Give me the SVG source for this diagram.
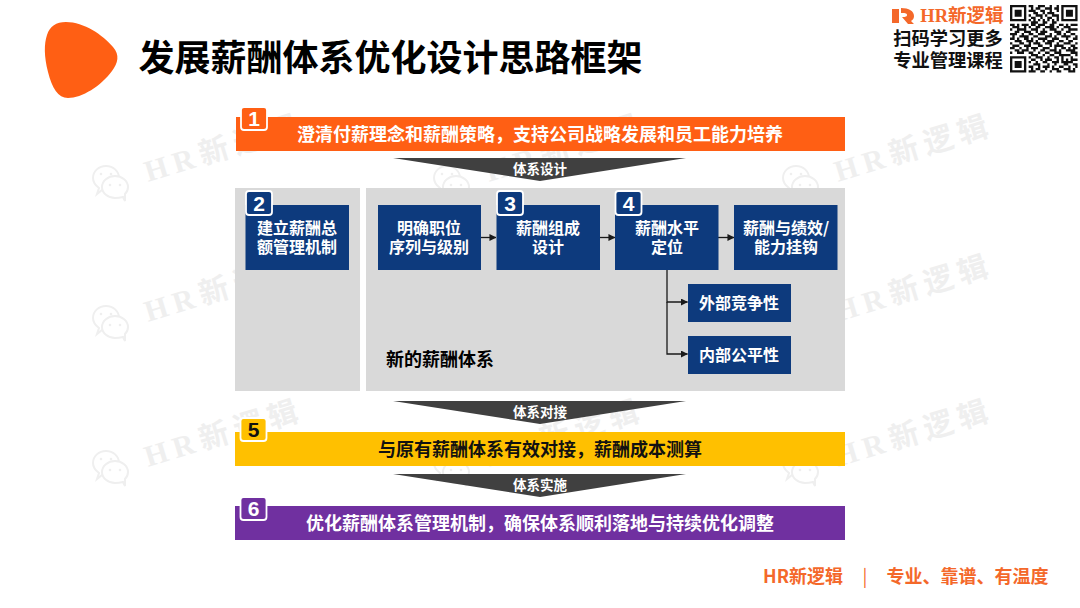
<svg xmlns="http://www.w3.org/2000/svg" width="1080" height="608" viewBox="0 0 1080 608">
<defs>
<style>
text{font-family:"Noto Sans CJK SC","Liberation Sans",sans-serif;font-weight:700;text-anchor:middle}
.wm{font-family:"Liberation Serif","Noto Sans CJK SC",serif;font-size:30px;fill:#efefef;text-anchor:start;letter-spacing:6px}
.box{fill:#0d3a7d}
.t{fill:#fff;font-size:16px}
.bar{font-size:18px;fill:#fff}
.tri{fill:#404040}
.tl{fill:#fff;font-size:13.500px}
.num{font-family:"Liberation Sans",sans-serif;font-size:21px;fill:#fff}
.c{fill:none;stroke:#1a1a1a;stroke-width:1.300}
.ic{fill:#fff;stroke:#efefef;stroke-width:2}
.badge{stroke:#fff;stroke-width:1.800}
</style>
<marker id="a" viewBox="0 0 8 8" refX="7.500" refY="4" markerWidth="7" markerHeight="7" markerUnits="userSpaceOnUse" orient="auto"><path d="M0 0L8 4L0 8z" fill="#1a1a1a"/></marker>
<g id="wmk">
<path class="ic" d="M5 29L7 23C3 20 1 16 1 13C1 6 7 1 14 1C21 1 27 6 27 13C27 20 21 25 14 25C12 25 11 25 10 25Z"/>
<path class="ic" d="M33 36L31 32C27 33 25 33 23 33C16 33 10 28 10 22C10 16 16 11 23 11C30 11 36 16 36 22C36 25 35 27 33 29Z"/>
<circle cx="9" cy="9" r="1.300" fill="#efefef"/><circle cx="19" cy="9" r="1.300" fill="#efefef"/><circle cx="18" cy="20" r="1.300" fill="#efefef"/><circle cx="28" cy="20" r="1.300" fill="#efefef"/>
<text class="wm" transform="translate(56 17) rotate(-17)">HR新逻辑</text>
</g>
</defs>
<rect width="1080" height="608" fill="#fff"/>
<g id="watermarks">
<use href="#wmk" x="92" y="165"/><use href="#wmk" x="92" y="305"/><use href="#wmk" x="92" y="450"/>
<use href="#wmk" x="433" y="165"/><use href="#wmk" x="433" y="305"/><use href="#wmk" x="433" y="450"/>
<use href="#wmk" x="782" y="165"/><use href="#wmk" x="782" y="305"/><use href="#wmk" x="782" y="450"/>
</g>
<path id="logo" d="M66 22C84 22 103 35 113 47C120 55 118 63 112 71C101 86 82 98 68 98C58 98 52 88 48 72C44 56 44 44 47 35C50 26 56 22 66 22Z" fill="#ff5f14"/>
<text x="390.500" y="71" font-size="36" fill="#000">发展薪酬体系优化设计思路框架</text>
<g id="brand">
<path d="M892 9h7v14h-7zM901 8c8 0 13 3 13 8c0 2-1 4-3 5l3 3h-6l-6-7c2 0 5 0 5-2s-3-2-6-2z" fill="#f4682a"/>
<text x="962" y="22" font-size="18.500" fill="#f4682a" style="font-family:'Liberation Serif','Noto Sans CJK SC',serif">HR新逻辑</text>
<text x="948" y="45" font-size="18.300" fill="#111">扫码学习更多</text>
<text x="948" y="66.500" font-size="18.300" fill="#111">专业管理课程</text>
</g>
<g id="qr" transform="translate(1010 5) scale(2.330)">
<path fill="#111" fill-rule="evenodd" d="M0 0h7v7h-7zM1 1v5h5v-5zM2 2h3v3h-3zM22 0h7v7h-7zM23 1v5h5v-5zM24 2h3v3h-3zM0 22h7v7h-7zM1 23v5h5v-5zM2 24h3v3h-3z"/>
<path fill="none" stroke="#111" stroke-width="1" d="M8 .5h2M12 .5h3M17 .5h1M20 .5h1M9 1.500h1M11 1.500h2M15 1.500h3M19 1.500h2M8 2.500h3M13 2.500h2M17 2.500h1M20 2.500h1M10 3.500h2M14 3.500h1M16 3.500h3M8 4.500h1M11 4.500h3M15 4.500h1M18 4.500h3M9 5.500h2M13 5.500h1M16 5.500h2M20 5.500h1M8 6.500h1M10 6.500h1M12 6.500h1M14 6.500h1M16 6.500h1M18 6.500h1M20 6.500h1M9 7.500h3M14 7.500h2M18 7.500h2M0 8.500h2M3 8.500h1M5 8.500h3M9 8.500h2M12 8.500h3M17 8.500h2M21 8.500h2M24 8.500h1M26 8.500h3M1 9.500h3M6 9.500h1M8 9.500h1M11 9.500h2M15 9.500h4M20 9.500h1M23 9.500h3M0 10.500h1M3 10.500h4M9 10.500h3M14 10.500h1M17 10.500h3M22 10.500h1M25 10.500h4M2 11.500h2M6 11.500h3M11 11.500h1M13 11.500h3M19 11.500h3M24 11.500h2M0 12.500h3M5 12.500h1M8 12.500h2M12 12.500h3M17 12.500h1M20 12.500h2M23 12.500h1M26 12.500h2M1 13.500h1M4 13.500h4M10 13.500h2M15 13.500h3M19 13.500h1M22 13.500h4M28 13.500h1M0 14.500h2M3 14.500h1M6 14.500h2M9 14.500h1M12 14.500h4M18 14.500h3M24 14.500h1M27 14.500h2M2 15.500h3M7 15.500h3M11 15.500h1M14 15.500h1M16 15.500h3M21 15.500h2M25 15.500h2M0 16.500h1M4 16.500h2M8 16.500h1M10 16.500h3M15 16.500h3M20 16.500h1M23 16.500h3M28 16.500h1M1 17.500h3M6 17.500h3M12 17.500h2M17 17.500h1M19 17.500h4M26 17.500h2M0 18.500h2M4 18.500h1M7 18.500h1M9 18.500h3M14 18.500h3M19 18.500h1M22 18.500h2M25 18.500h1M27 18.500h2M2 19.500h2M5 19.500h3M10 19.500h1M13 19.500h2M17 19.500h3M21 19.500h1M24 19.500h4M0 20.500h1M3 20.500h3M8 20.500h2M12 20.500h1M15 20.500h2M19 20.500h3M26 20.500h3M9 21.500h3M14 21.500h1M17 21.500h2M21 21.500h5M28 21.500h1M8 22.500h1M11 22.500h3M16 22.500h1M19 22.500h2M22 22.500h1M26 22.500h1M9 23.500h2M13 23.500h1M15 23.500h3M20 23.500h1M22 23.500h1M24 23.500h1M26 23.500h3M8 24.500h1M11 24.500h1M14 24.500h2M18 24.500h3M22 24.500h5M10 25.500h3M16 25.500h1M19 25.500h1M23 25.500h2M27 25.500h2M8 26.500h2M12 26.500h1M14 26.500h3M18 26.500h1M21 26.500h2M25 26.500h1M28 26.500h1M9 27.500h1M11 27.500h2M15 27.500h1M18 27.500h3M23 27.500h3M27 27.500h1M8 28.500h3M13 28.500h2M17 28.500h1M20 28.500h2M25 28.500h3"/>
</g>

<g id="panels" fill="#d9d9d9">
<rect x="235" y="188" width="125" height="203"/><rect x="366" y="188" width="479" height="203"/>
</g>
<text x="440" y="366" font-size="18" fill="#000">新的薪酬体系</text>

<g id="connectors">
<path class="c" d="M481 237.500H496" marker-end="url(#a)"/>
<path class="c" d="M600 237.500H615" marker-end="url(#a)"/>
<path class="c" d="M718 237.500H734" marker-end="url(#a)"/>
<path class="c" d="M667 270V302H687.500" marker-end="url(#a)"/>
<path class="c" d="M667 302V354H687.500" marker-end="url(#a)"/>
</g>

<g id="n1"><rect x="236" y="117" width="609" height="34" fill="#ff5f14"/><text class="bar" x="540" y="140.500">澄清付薪理念和薪酬策略，支持公司战略发展和员工能力培养</text>
<rect x="241" y="107" width="26" height="23" rx="3" fill="#ff5f14" class="badge"/><text class="num" x="254" y="126">1</text></g>
<g id="s1"><path class="tri" d="M393 158H686L540 181Z"/><text class="tl" x="540" y="173.500">体系设计</text></g>

<g id="n2"><rect class="box" x="245.500" y="205" width="103.500" height="65"/><text class="t" x="297" y="234">建立薪酬总</text><text class="t" x="297" y="253">额管理机制</text>
<rect x="246" y="191" width="26" height="24" rx="3" fill="#0d3a7d" class="badge"/><text class="num" x="259" y="210.500">2</text></g>
<g id="n2b"><rect class="box" x="378" y="205" width="103" height="65"/><text class="t" x="429" y="234">明确职位</text><text class="t" x="429" y="253">序列与级别</text></g>
<g id="n3"><rect class="box" x="496.500" y="205" width="103.500" height="65"/><text class="t" x="548" y="234">薪酬组成</text><text class="t" x="548" y="253">设计</text>
<rect x="497" y="191" width="26" height="24" rx="3" fill="#0d3a7d" class="badge"/><text class="num" x="510" y="210.500">3</text></g>
<g id="n4"><rect class="box" x="615" y="205" width="103.500" height="65"/><text class="t" x="667" y="234">薪酬水平</text><text class="t" x="667" y="253">定位</text>
<rect x="615.500" y="191" width="26" height="24" rx="3" fill="#0d3a7d" class="badge"/><text class="num" x="628.500" y="210.500">4</text></g>
<g id="n4b"><rect class="box" x="734" y="205" width="103.500" height="65"/><text class="t" x="786" y="234">薪酬与绩效/</text><text class="t" x="786" y="253">能力挂钩</text></g>
<g id="n4c"><rect class="box" x="688" y="284" width="103" height="38"/><text class="t" x="739" y="309">外部竞争性</text></g>
<g id="n4d"><rect class="box" x="688" y="336" width="103" height="38"/><text class="t" x="739" y="361">内部公平性</text></g>

<g id="s2"><path class="tri" d="M393 401H686L540 424Z"/><text class="tl" x="540" y="416.500">体系对接</text></g>
<g id="n5"><rect x="235" y="432" width="610" height="34" fill="#ffc000"/><text class="bar" x="540" y="455.500" style="fill:#111">与原有薪酬体系有效对接，薪酬成本测算</text>
<rect x="240.500" y="418" width="26" height="23" rx="3" fill="#ffc000" class="badge"/><text class="num" x="253.500" y="437" style="fill:#111">5</text></g>
<g id="s3"><path class="tri" d="M393 474H686L540 497Z"/><text class="tl" x="540" y="489.500">体系实施</text></g>
<g id="n6"><rect x="235" y="506" width="610" height="34" fill="#7030a0"/><text class="bar" x="540" y="529.500">优化薪酬体系管理机制，确保体系顺利落地与持续优化调整</text>
<rect x="240.500" y="497" width="26" height="23" rx="3" fill="#7030a0" class="badge"/><text class="num" x="253.500" y="516">6</text></g>

<g id="footer" fill="#f4682a" font-size="18">
<text x="803" y="583">HR新逻辑</text><text x="865" y="583" style="font-weight:400">|</text><text x="967.500" y="583">专业、靠谱、有温度</text>
</g>
</svg>
